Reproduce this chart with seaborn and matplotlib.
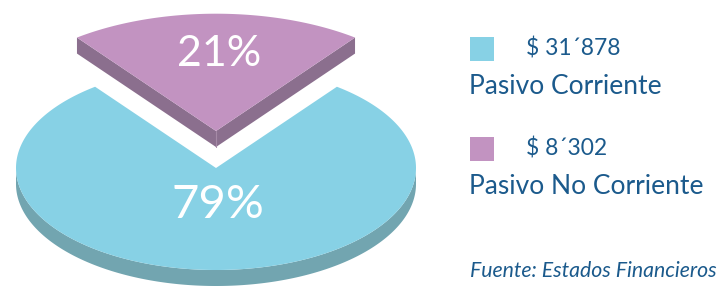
import numpy as np
import matplotlib
matplotlib.use('Agg')
import matplotlib.pyplot as plt
from matplotlib.patches import Polygon, Rectangle
import seaborn as sns

# Data
labels = ['Pasivo Corriente', 'Pasivo No Corriente']
values = [31878, 8302]
value_texts = ['$ 31´878', '$ 8´302']
source = 'Fuente: Estados Financieros'

top_colors = ['#87d1e5', '#c293c1']
side_colors = ['#72a5b0', '#8b6f8e']
text_blue = '#1b5a8c'

sns.set_theme(style='white')
plt.rcParams['font.family'] = ['Lato', 'DejaVu Sans']

fig = plt.figure(figsize=(7.2, 2.87), dpi=100)
ax = fig.add_axes([0, 0, 1, 1])
ax.set_xlim(0, 720)
ax.set_ylim(0, 287)
ax.axis('off')

# pie geometry (pixel space, y up)
cx, cy = 216, 119
a, b = 200, 102
depth = 16
explode = 37       # purple slice pushed back
scale_out = 1.15   # exploded slice drawn a bit larger


def ell(t, r=1.0, ox=0.0, oy=0.0):
    return np.column_stack([cx + ox + r * a * np.cos(t), cy + oy + r * b * np.sin(t)])


fracs = np.array(values) / sum(values)
span_small = fracs[1] * 2 * np.pi
s0, s1 = np.pi / 2 - span_small / 2, np.pi / 2 + span_small / 2

# big slice (goes the long way round, from s1 to s0 + 2pi)
t_big = np.linspace(s1, s0 + 2 * np.pi, 400)
front = t_big[(np.sin(t_big) <= 0)]
arc = ell(front)
side = np.vstack([arc, arc[::-1] - [0, depth]])
ax.add_patch(Polygon(side, closed=True, fc=side_colors[0], ec='none'))
top = np.vstack([[cx, cy], ell(t_big)])
ax.add_patch(Polygon(top, closed=True, fc=top_colors[0], ec='none'))

# small slice, exploded
vx, vy = cx, cy + explode
t_small = np.linspace(s0, s1, 200)
p_right = ell(np.array([s0]), scale_out, 0, explode)[0]
p_left = ell(np.array([s1]), scale_out, 0, explode)[0]
for p in (p_left, p_right):
    face = [[vx, vy], p, p - [0, depth], [vx, vy - depth]]
    ax.add_patch(Polygon(face, closed=True, fc=side_colors[1], ec='none'))
ax.plot([vx, vx], [vy, vy - depth], color='#a58aa6', lw=0.8)
top2 = np.vstack([[vx, vy], ell(t_small, scale_out, 0, explode)])
ax.add_patch(Polygon(top2, closed=True, fc=top_colors[1], ec='none'))

# percentage labels
ax.text(cx + 2, cy - 0.36 * b, f'{fracs[0]:.0%}', color='white', fontsize=34,
        fontweight='normal', ha='center', va='center')
ax.text(vx + 3, vy + 0.66 * b * scale_out, f'{fracs[1]:.0%}', color='white',
        fontsize=31, fontweight='normal', ha='center', va='center')

# legend
leg_y = [226, 126]
for i in range(len(labels)):
    ax.add_patch(Rectangle((470, leg_y[i]), 24, 24, fc=top_colors[i], ec='none'))
    ax.text(526, leg_y[i] + 13, value_texts[i], color=text_blue, fontsize=16.5,
            ha='left', va='center')
    ax.text(469, leg_y[i] - 26, labels[i], color=text_blue, fontsize=19,
            ha='left', va='center')

ax.text(717, 16, source, color=text_blue, fontsize=15.3, style='italic',
        ha='right', va='center')

fig.savefig('out.png', dpi=100)
